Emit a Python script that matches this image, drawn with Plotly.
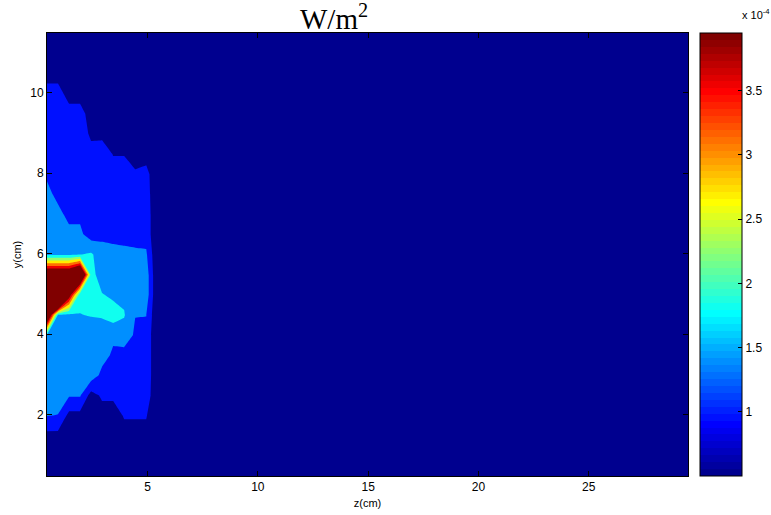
import numpy as np
import plotly.graph_objects as go

# Sampling positions (cm)
z_cm = [0.44, 0.94, 1.44, 1.94, 2.44, 2.94, 3.44, 3.94, 4.44, 4.94, 5.44, 29.5]
y_cm = [0.48, 0.98, 1.48, 1.98, 2.48, 2.98, 3.48, 3.98, 4.48, 4.98, 5.48, 5.98,
        6.48, 6.98, 7.48, 7.98, 8.48, 8.98, 9.48, 9.98, 10.48, 10.98, 11.48]

# Power density in units of 1e-4 W/m^2, one column per z position (bottom to top in y)
col_z044 = [0.55, 0.6, 0.8, 1.37, 1.5, 1.6, 1.65, 1.75, 5.34, 6.0, 4.9, 1.7,
            1.6, 1.55, 1.45, 1.31, 1.2, 1.1, 1.05, 1.0, 0.857, 0.6, 0.55]
col_z094 = [0.55, 0.6, 0.8, 1.35, 1.5, 1.55, 1.6, 1.68, 1.75, 9.5, 4.9, 1.7,
            1.55, 1.45, 1.27, 1.2, 1.15, 1.1, 1.05, 1.0, 0.857, 0.6, 0.55]
col_z144 = [0.55, 0.6, 0.7, 0.8, 1.4, 1.55, 1.6, 1.65, 1.7, 4.4, 4.9, 1.7,
            1.45, 1.27, 1.2, 1.15, 1.1, 1.05, 1.0, 0.857, 0.65, 0.58, 0.55]
col_z194 = [0.55, 0.6, 0.7, 0.8, 1.4, 1.55, 1.6, 1.65, 1.78, 1.9, 5.8, 1.78,
            1.45, 1.27, 1.2, 1.15, 1.1, 1.05, 1.0, 0.857, 0.65, 0.58, 0.55]
col_z244 = [0.55, 0.6, 0.65, 0.75, 0.75, 1.6, 1.62, 1.6, 1.81, 1.85, 2.0, 1.85,
            1.15, 1.1, 1.05, 1.0, 1.0, 0.89, 0.85, 0.75, 0.62, 0.56, 0.55]
col_z294 = [0.55, 0.58, 0.62, 0.75, 1.0, 1.25, 1.5, 1.65, 1.82, 1.82, 1.5, 1.55,
            1.25, 1.2, 1.15, 1.12, 1.1, 0.85, 0.7, 0.62, 0.58, 0.55, 0.55]
col_z344 = [0.55, 0.58, 0.62, 0.75, 1.0, 1.15, 1.3, 1.43, 2.03, 1.69, 1.5, 1.48,
            1.25, 1.15, 1.1, 1.05, 0.915, 0.7, 0.62, 0.58, 0.55, 0.55, 0.55]
col_z394 = [0.55, 0.6, 0.8, 0.96, 1.05, 1.15, 1.2, 1.6, 1.82, 1.7, 1.55, 1.45,
            1.24, 1.15, 1.1, 1.05, 0.915, 0.7, 0.6, 0.56, 0.55, 0.55, 0.55]
col_z444 = [0.55, 0.6, 0.8, 0.96, 1.05, 1.1, 1.15, 1.3, 1.37, 1.5, 1.5, 1.42,
            1.24, 1.15, 1.05, 1.0, 0.7, 0.6, 0.56, 0.55, 0.55, 0.55, 0.55]
col_z494 = [0.55, 0.6, 0.8, 0.96, 1.2, 1.25, 1.25, 1.25, 1.37, 1.6, 1.6, 1.42,
            1.2, 1.2, 1.15, 1.1, 0.71, 0.6, 0.56, 0.55, 0.55, 0.55, 0.55]
col_z544 = [0.52, 0.52, 0.52, 0.52, 0.52, 0.52, 0.52, 0.52, 0.52, 0.52, 0.52, 0.52,
            0.52, 0.52, 0.52, 0.52, 0.52, 0.52, 0.52, 0.52, 0.52, 0.52, 0.52]
col_z2950 = [0.5, 0.5, 0.5, 0.5, 0.5, 0.5, 0.5, 0.5, 0.5, 0.5, 0.5, 0.5,
             0.5, 0.5, 0.5, 0.5, 0.5, 0.5, 0.5, 0.5, 0.5, 0.5, 0.5]

# Contour levels and colour-axis limits (1e-4 W/m^2)
level_start, level_end, level_step = 0.93, 3.95, 0.43
c_min, c_max = 0.5, 3.95
cbar_ticks = [1, 1.5, 2, 2.5, 3, 3.5]
cbar_ticktext = ["1", "1.5", "2", "2.5", "3", "3.5"]

power = np.array([col_z044, col_z094, col_z144, col_z194, col_z244, col_z294,
                  col_z344, col_z394, col_z444, col_z494, col_z544, col_z2950]).T


def jet(n=64):
    """MATLAB-style jet colormap with n entries, as rgb strings."""
    m = n // 4
    u = [i / m for i in range(1, m + 1)] + [1.0] * (m - 1) + [i / m for i in range(m, 0, -1)]
    g0 = int(np.ceil(m / 2)) - (1 if n % 4 == 1 else 0)
    rgb = np.zeros((n, 3))
    for k, val in enumerate(u):
        g = g0 + k + 1
        r = g + m
        b = g - m
        if 1 <= r <= n:
            rgb[r - 1, 0] = val
        if 1 <= g <= n:
            rgb[g - 1, 1] = val
        if 1 <= b <= n:
            rgb[b - 1, 2] = val
    return ["rgb(%d,%d,%d)" % tuple(np.round(c * 255)) for c in rgb]


jet64 = jet(64)

# stepped 64-colour scale for the colour bar
cbar_scale = []
for i, c in enumerate(jet64):
    cbar_scale.append([i / 64, c])
    cbar_scale.append([(i + 1) / 64, c])

# one jet colour per filled band (bands sit at k/8 of the colour axis)
n_bands = 9
band_colors = [jet64[min(63, int(np.floor(k / 8 * 64)))] for k in range(n_bands)]
band_scale = []
for k, c in enumerate(band_colors):
    lo = max(0.0, (k - 0.5) / 8)
    hi = min(1.0, (k + 0.5) / 8)
    band_scale.append([lo, c])
    band_scale.append([hi, c])

fig = go.Figure()

fig.add_trace(go.Contour(
    x=z_cm, y=y_cm, z=power,
    autocontour=False,
    contours=dict(start=level_start, end=level_end, size=level_step,
                  coloring="fill", showlines=False),
    line=dict(width=0, smoothing=0),
    colorscale=band_scale,
    showscale=False,
    hoverinfo="skip",
))

# colour bar for the full jet map
fig.add_trace(go.Scatter(
    x=[None], y=[None], mode="markers",
    marker=dict(color=[c_min], cmin=c_min, cmax=c_max, colorscale=cbar_scale,
                showscale=True,
                colorbar=dict(
                    x=1.0187, xanchor="left", xpad=0,
                    y=0.5, yanchor="middle", len=1, lenmode="fraction", ypad=0,
                    thickness=42, thicknessmode="pixels",
                    outlinecolor="black", outlinewidth=1,
                    tickvals=cbar_ticks, ticktext=cbar_ticktext,
                    ticks="inside", ticklen=4, tickcolor="black",
                    tickfont=dict(family="Liberation Sans", size=12, color="black"),
                )),
    showlegend=False, hoverinfo="skip",
))

axis_common = dict(
    showline=True, linecolor="black", linewidth=1, mirror="ticks",
    ticks="inside", ticklen=5, tickcolor="black", tickwidth=1,
    showgrid=False, zeroline=False,
    tickfont=dict(family="Liberation Sans", size=12, color="black"),
)

fig.update_layout(
    width=771, height=515,
    margin=dict(l=47, r=83, t=33, b=39, pad=0, autoexpand=False),
    paper_bgcolor="white", plot_bgcolor="white",
    xaxis=dict(range=[0.44, 29.5], tickvals=[5, 10, 15, 20, 25],
               title=dict(text="z(cm)", font=dict(family="Liberation Sans", size=11, color="black"),
                          standoff=5),
               **axis_common),
    yaxis=dict(range=[0.48, 11.48], tickvals=[2, 4, 6, 8, 10],
               title=dict(text="y(cm)", font=dict(family="Liberation Sans", size=11, color="black"),
                          standoff=6),
               **axis_common),
    annotations=[
        dict(text="W/m<sup>2</sup>", xref="paper", yref="paper", x=0.447, y=1.037,
             xanchor="center", yanchor="middle", showarrow=False,
             font=dict(family="Liberation Serif", size=29, color="black")),
        dict(text="x 10<sup>-4</sup>", xref="paper", yref="paper", x=1.0806, y=1.042,
             xanchor="left", yanchor="middle", showarrow=False,
             font=dict(family="Liberation Sans", size=11, color="black")),
    ],
)

fig.write_html("out.html")
